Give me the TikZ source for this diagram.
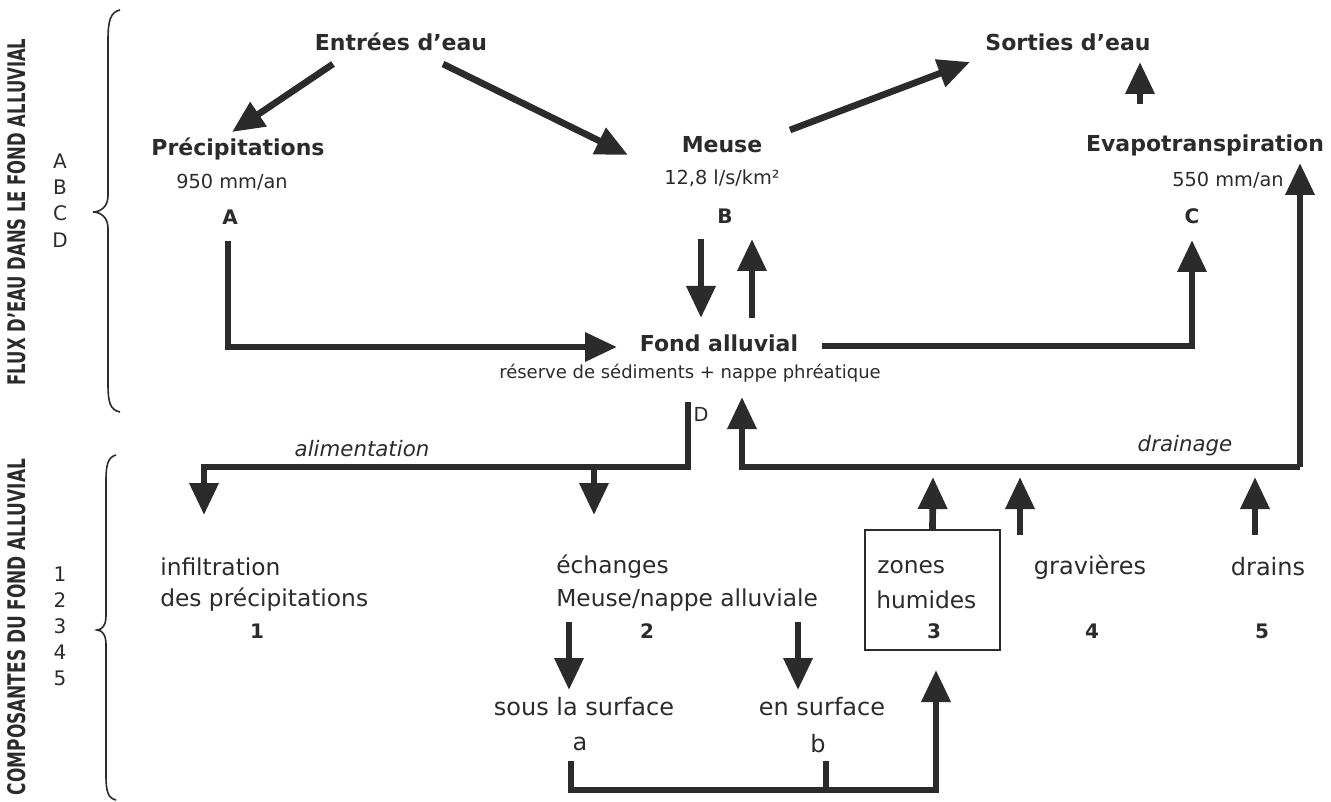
\documentclass[tikz,border=0pt]{standalone}
\usepackage{fontspec}
\setmainfont{DejaVu Sans}
\usetikzlibrary{arrows.meta}
\definecolor{ink}{HTML}{2B2B2B}
\begin{document}
\begin{tikzpicture}[x=0.75pt,y=-0.75pt,
  every node/.style={text=ink,inner sep=0pt},
  big/.style={font=\fontsize{16.5pt}{19pt}\selectfont\bfseries},
  small/.style={font=\fontsize{14.5pt}{17pt}\selectfont},
  smaller/.style={font=\fontsize{13.5pt}{16pt}\selectfont},
  letter/.style={font=\fontsize{15pt}{17pt}\selectfont\bfseries},
  lbl/.style={font=\fontsize{17.5pt}{20pt}\selectfont, anchor=west},
  ctr/.style={font=\fontsize{18pt}{20pt}\selectfont},
  num/.style={font=\fontsize{15pt}{18pt}\selectfont\bfseries},
  ital/.style={font=\fontsize{16pt}{18pt}\selectfont\itshape},
  side/.style={font=\fontsize{15pt}{18pt}\selectfont},
  arr/.style={draw=ink, line width=5pt, line join=miter, -{Triangle[width=21pt,length=24pt]}},
  ln/.style={draw=ink, line width=5pt, line join=miter},
  brace/.style={draw=ink, line width=1.2pt},
]
\useasboundingbox (0,0) rectangle (1331,802);

% ---------- left side titles ----------
\node[rotate=90] (t1) at (17,212) {\resizebox{260pt}{13.5pt}{\bfseries FLUX D'EAU DANS LE FOND ALLUVIAL}};
\node[rotate=90] (t2) at (17,627) {\resizebox{252pt}{13.5pt}{\bfseries COMPOSANTES DU FOND ALLUVIAL}};
\node[side] (sA) at (60,161) {A};
\node[side] (sB) at (60,187) {B};
\node[side] (sC) at (60,213) {C};
\node[side] (sD) at (60,240) {D};
\node[side] (s1) at (60,574) {1};
\node[side] (s2) at (60,600) {2};
\node[side] (s3) at (60,626) {3};
\node[side] (s4) at (60,652) {4};
\node[side] (s5) at (60,678) {5};
\draw[brace] (120,10) .. controls (110,12) and (108,22) .. (108,40) -- (108,196)
  .. controls (108,206) and (101,212) .. (93,212)
  .. controls (101,212) and (108,218) .. (108,228) -- (108,384)
  .. controls (108,402) and (110,410) .. (120,412);
\draw[brace] (116,455) .. controls (108,457) and (106,465) .. (106,480) -- (106,616)
  .. controls (106,625) and (102,630) .. (97,630)
  .. controls (102,630) and (106,635) .. (106,644) -- (106,775)
  .. controls (106,792) and (108,798) .. (116,800);

% ---------- top ----------
\node[big] (entrees) at (401,42) {Entrées d'eau};
\node[big] (sorties) at (1068,42) {Sorties d'eau};
\node[big] (precip) at (238,149) {Précipitations};
\node[small] (precipv) at (232,182) {950 mm/an};
\node[letter] (A) at (230,217) {A};
\node[big] (meuse) at (722,145) {Meuse};
\node[small] (meusev) at (722,178) {12,8 l/s/km²};
\node[letter] (B) at (725,216) {B};
\node[big] (evapo) at (1205,145) {Evapotranspiration};
\node[small] (evapov) at (1228,180) {550 mm/an};
\node[letter] (C) at (1192,216) {C};
\node[big] (fond) at (719,343) {Fond alluvial};
\node[smaller] (fondv) at (690,373) {réserve de sédiments + nappe phréatique};
\node[small] (D) at (701,414) {D};

\coordinate (e1) at (333,64);
\coordinate (e1t) at (232,132);
\coordinate (e2) at (443,64);
\coordinate (e2t) at (628,155);
\coordinate (m1) at (790,130);
\coordinate (m1t) at (970,62);
\coordinate (ev1) at (1140,104);
\coordinate (ev1t) at (1140,62);
\coordinate (md) at (701,239);
\coordinate (mdt) at (701,318);
\coordinate (mu) at (752,318);
\coordinate (mut) at (752,239);
\coordinate (a1) at (228,241);
\coordinate (a2) at (228,347);
\coordinate (a2t) at (617,347);
\coordinate (f1) at (822,346);
\coordinate (f2) at (1192,346);
\coordinate (f2t) at (1192,240);

\draw[arr] (e1) -- (e1t);
\draw[arr] (e2) -- (e2t);
\draw[arr] (m1) -- (m1t);
\draw[arr] (ev1) -- (ev1t);
\draw[arr] (md) -- (mdt);
\draw[arr] (mu) -- (mut);
\draw[arr] (a1) -- (a2) -- (a2t);
\draw[arr] (f1) -- (f2) -- (f2t);

% ---------- alimentation / drainage ----------
\coordinate (d0) at (688,402);
\coordinate (d1) at (688,467);
\coordinate (d2) at (204,467);
\coordinate (d2t) at (204,515);
\coordinate (d3) at (594,467);
\coordinate (d3t) at (594,515);
\draw[arr] (d0) -- (d1) -- (d2) -- (d2t);
\draw[arr] (d3) -- (d3t);
\node[ital] (alim) at (362,449) {alimentation};

\coordinate (r0) at (1300,467);
\coordinate (r0t) at (1300,163);
\coordinate (r1) at (742,467);
\coordinate (r1t) at (742,397);
\draw[arr] (r0) -- (r0t);
\draw[arr] (r0) -- (r1) -- (r1t);
\node[ital] (drain) at (1185,446) {drainage};

% ---------- components ----------
\node[lbl] (infil) at (160,567) {infiltration};
\node[lbl] (infil2) at (160,600) {des précipitations};
\node[num] (n1) at (257,631) {1};
\node[lbl] (ech) at (556,567) {échanges};
\node[lbl] (ech2) at (556,600) {Meuse/nappe alluviale};
\node[num] (n2) at (647,631) {2};

\node[draw=ink, line width=1pt, minimum width=101.25pt, minimum height=90pt] (box) at (932.5,590) {};
\node[lbl] (zon) at (877,567) {zones};
\node[lbl] (zon2) at (876,600) {humides};
\node[num] (n3) at (934,631) {3};
\node[ctr] (grav) at (1090,567) {gravières};
\node[num] (n4) at (1092,631) {4};
\node[ctr] (drn) at (1268,567) {drains};
\node[num] (n5) at (1262,631) {5};

\coordinate (u3t) at (933,477);
\coordinate (u4) at (1020,535);
\coordinate (u4t) at (1020,477);
\coordinate (u5) at (1255,535);
\coordinate (u5t) at (1255,477);
\draw[arr] (box.north) -- (u3t);
\draw[arr] (u4) -- (u4t);
\draw[arr] (u5) -- (u5t);

\coordinate (s1a) at (569,622);
\coordinate (s1at) at (569,690);
\coordinate (s2a) at (798,622);
\coordinate (s2at) at (798,690);
\draw[arr] (s1a) -- (s1at);
\draw[arr] (s2a) -- (s2at);
\node[ctr] (sous) at (584,707) {sous la surface};
\node[ctr] (ensf) at (822,707) {en surface};
\node[ctr] (la) at (580,744) {a};
\node[ctr] (lb) at (818,744) {b};

\coordinate (b1) at (571,761);
\coordinate (b2) at (571,790);
\coordinate (b3) at (936,790);
\coordinate (b3t) at (936,670);
\coordinate (b4) at (826,761);
\coordinate (b5) at (826,790);
\draw[arr] (b1) -- (b2) -- (b3) -- (b3t);
\draw[ln] (b4) -- (b5);
\end{tikzpicture}
\end{document}
